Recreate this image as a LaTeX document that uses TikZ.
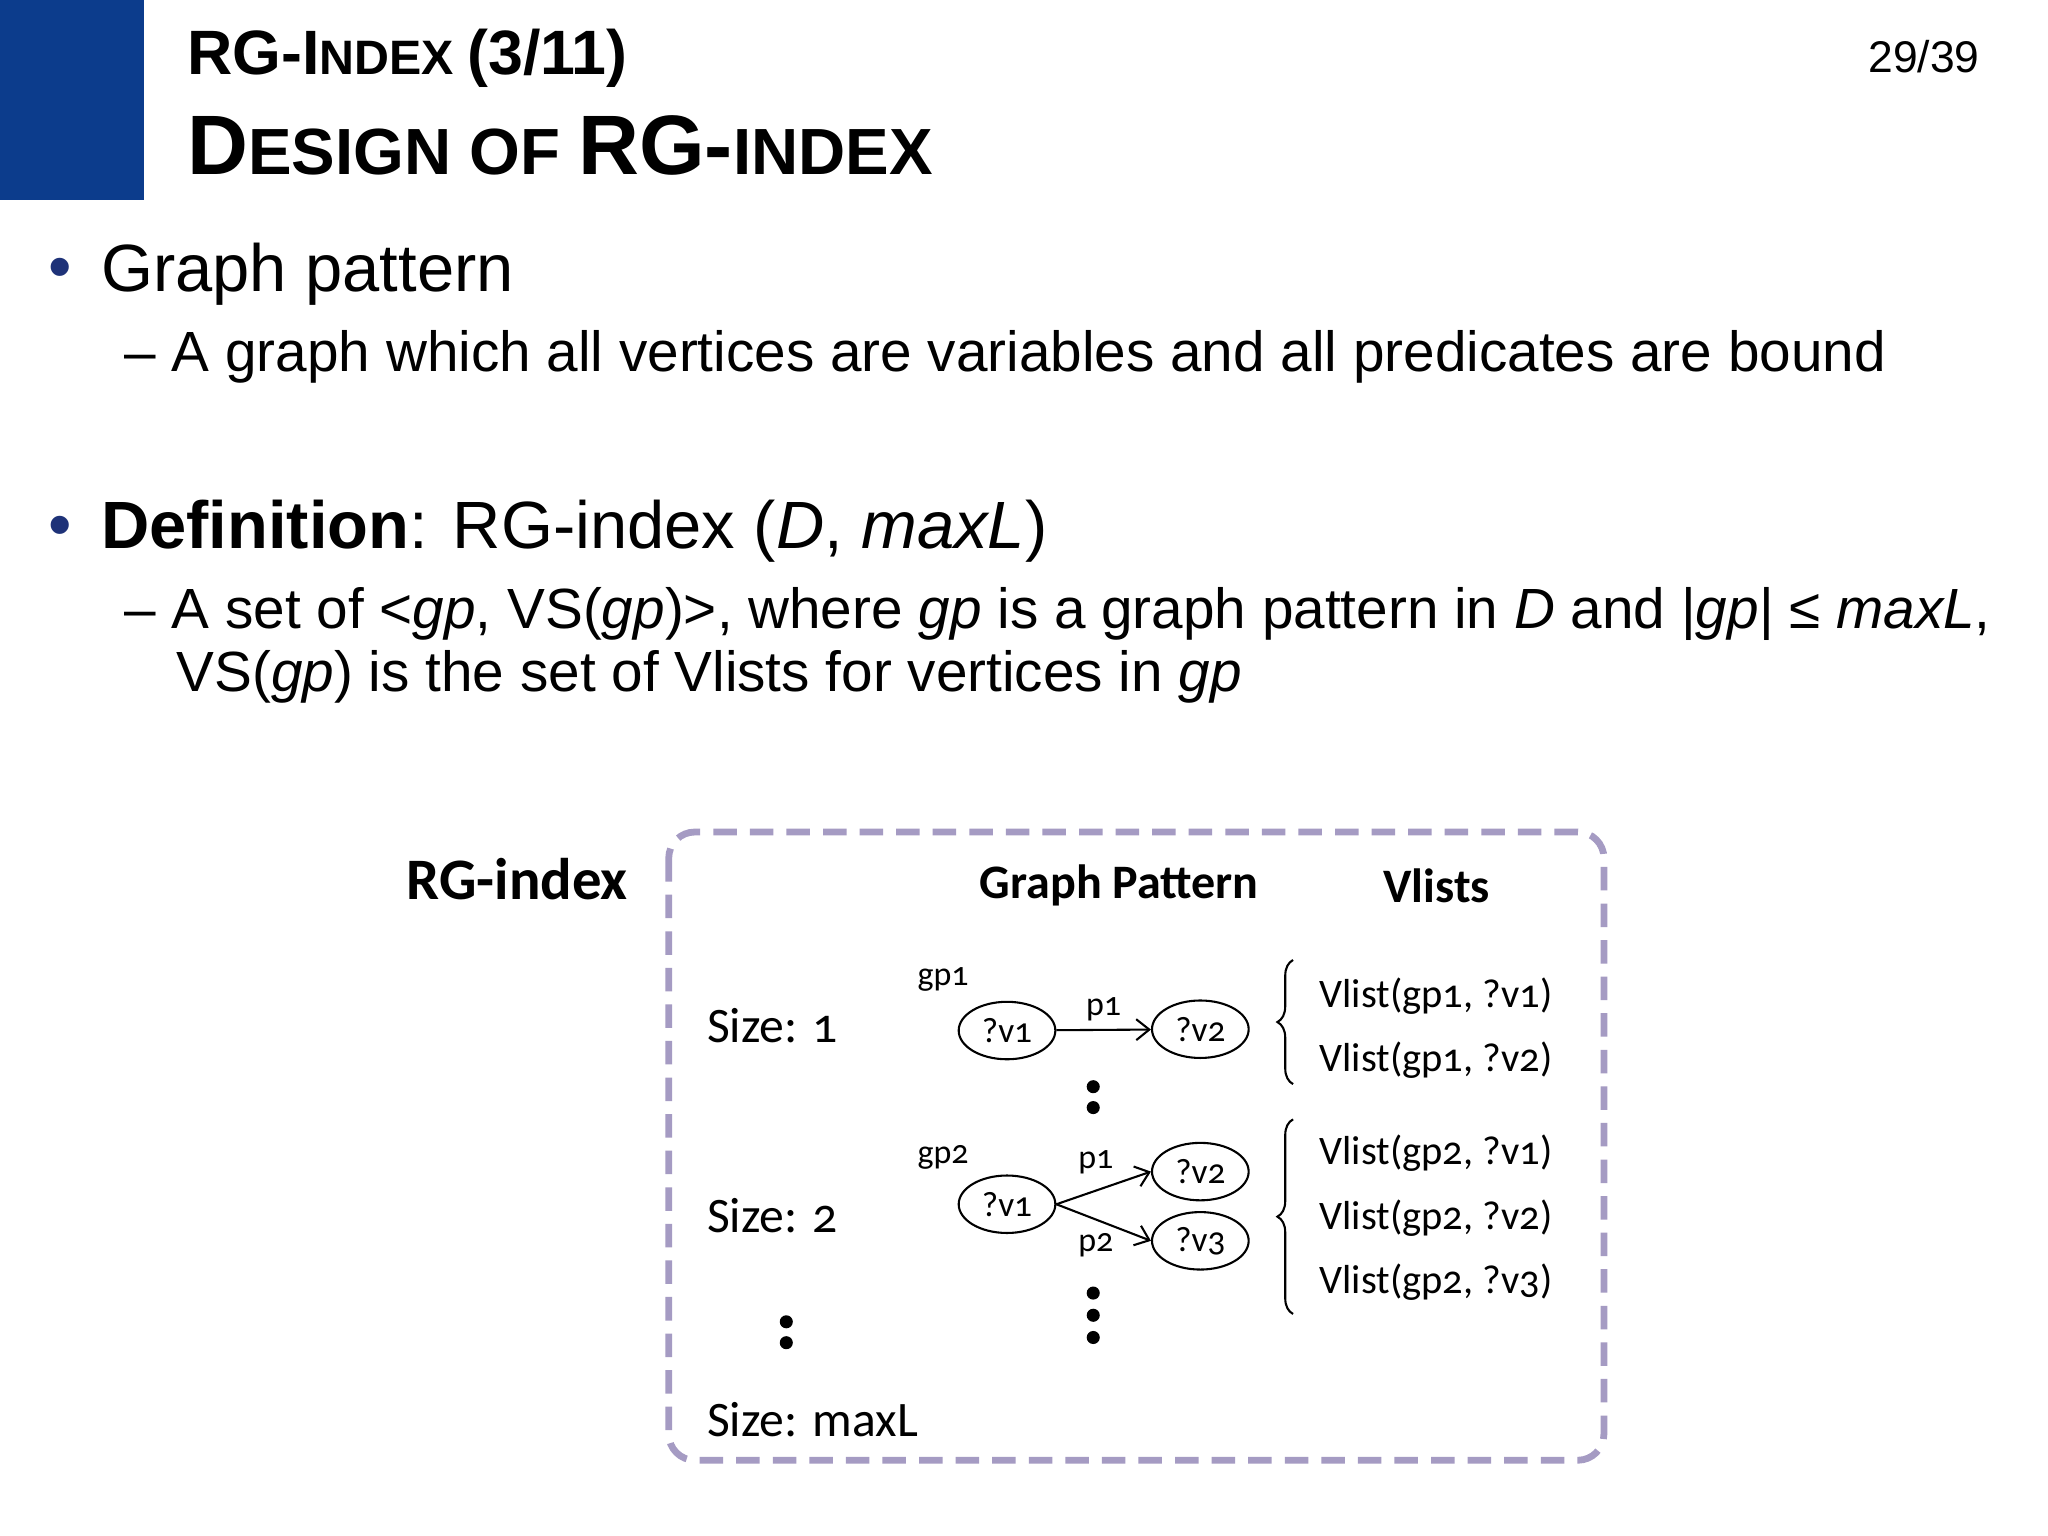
\documentclass[tikz,border=0pt]{standalone}
\usepackage{fontspec}
\setmainfont{Liberation Sans}
\newfontfamily\dgfont[Numbers=OldStyle]{Carlito}
\usetikzlibrary{decorations.pathreplacing,arrows.meta,shapes.geometric}
\definecolor{hdrblue}{RGB}{12,60,140}
\definecolor{lav}{RGB}{165,155,195}
\definecolor{bul}{RGB}{30,50,120}
\tikzset{
 x=0.5pt,y=-0.5pt,
 bodyL/.style={anchor=west,inner sep=0,font=\fontsize{25.6}{30}\selectfont},
 bodyS/.style={anchor=west,inner sep=0,font=\fontsize{21.7}{26}\selectfont},
 dg/.style={inner sep=0,font=\dgfont\fontsize{15.5}{19}\selectfont},
 sz/.style={inner sep=0,anchor=west,font=\dgfont\fontsize{19}{22}\selectfont},
 dgs/.style={inner sep=0,font=\dgfont\fontsize{13}{15}\selectfont},
 var/.style={ellipse,draw,line width=0.8pt,minimum width=37pt,minimum height=22pt,inner sep=0,font=\dgfont\fontsize{13.5}{15}\selectfont},
 arr/.style={-{Straight Barb[length=5pt,width=8pt]},line width=0.8pt},
 dot/.style={circle,fill,inner sep=0,minimum size=5pt},
 br/.style={decorate,decoration={brace,amplitude=6pt},line width=0.8pt}
}
\begin{document}
\begin{tikzpicture}
\useasboundingbox (0,0) rectangle (1568,1176);
\fill[white] (0,0) rectangle (1568,1176);
\fill[hdrblue] (0,0) rectangle (110,153);
\node[anchor=west,inner sep=0] (t1) at (143,45) {\bfseries\fontsize{24}{26}\selectfont RG-I\fontsize{18.5}{20}\selectfont NDEX \fontsize{24}{26}\selectfont(3/11)};
\node[anchor=west,inner sep=0] (t2) at (143,111) {\bfseries\fontsize{32.3}{34}\selectfont D\fontsize{25}{26}\selectfont ESIGN OF \fontsize{32.3}{34}\selectfont RG-\fontsize{25}{26}\selectfont INDEX};
\node[anchor=east,inner sep=0,font=\fontsize{17}{20}\selectfont] (pg) at (1516,43) {29/39};
\node[bodyL,text=bul] (b1) at (37,210) {•};
\node[bodyL] (l1) at (77,210) {Graph pattern};
\node[bodyS] (l2) at (95,273) {– A graph which all vertices are variables and all predicates are bound};
\node[bodyL,text=bul] (b2) at (37,407) {•};
\node[bodyL] (l3) at (77,407) {\textbf{Definition}: RG-index (\textit{D}, \textit{maxL})};
\node[bodyS] (l4) at (95,470) {– A set of <\textit{gp}, VS(\textit{gp})>, where \textit{gp} is a graph pattern in \textit{D} and |\textit{gp}| ≤ \textit{maxL},};
\node[bodyS] (l5) at (135,518) {VS(\textit{gp}) is the set of Vlists for vertices in \textit{gp}};
% diagram
\draw[lav,line width=2.6pt,dash pattern=on 9pt off 5pt,rounded corners=10pt] (512,637) rectangle (1228,1118);
\node[dg,anchor=east,font=\dgfont\bfseries\fontsize{22.5}{25}\selectfont] (rg) at (481,673) {RG-index};
\node[dg,font=\dgfont\bfseries\fontsize{18.4}{21}\selectfont] (hg) at (857,678) {Graph Pattern};
\node[dg,font=\dgfont\bfseries\fontsize{18.4}{21}\selectfont] (hv) at (1100,678) {Vlists};
\node[sz] (s1) at (541,785) {Size: 1};
\node[sz] (s2) at (541,931) {Size: 2};
\node[sz] (sm) at (541,1087) {Size: maxL};
\node[dot] (sd1) at (602,1012) {};
\node[dot] (sd2) at (602,1028) {};
% gp1
\node[dgs] (g1) at (722,750) {gp1};
\node[var] (a1) at (771,789) {?v1};
\node[var] (a2) at (919,788) {?v2};
\draw[arr] (a1) -- (a2) node[dgs,midway,above=3pt] (p1a) {p1};
\node[dot] (d1) at (837,832) {};
\node[dot] (d2) at (837,848) {};
% gp2
\node[dgs] (g2) at (722,886) {gp2};
\node[var] (c1) at (771,922) {?v1};
\node[var] (c2) at (919,897) {?v2};
\node[var] (c3) at (919,950) {?v3};
\draw[arr] (c1.east) -- (c2.west);
\draw[arr] (c1.east) -- (c3.west);
\node[dgs] (p1b) at (839,890) {p1};
\node[dgs] (p2b) at (839,953) {p2};
\node[dot] (d3) at (837,990) {};
\node[dot] (d4) at (837,1007) {};
\node[dot] (d5) at (837,1024) {};
% vlists
\coordinate (bA1) at (990,830); \coordinate (bA2) at (990,735);
\draw[br] (bA1) -- (bA2);
\node[dg,anchor=west] (v11) at (1010,763) {Vlist(gp1, ?v1)};
\node[dg,anchor=west] (v12) at (1010,812) {Vlist(gp1, ?v2)};
\coordinate (bB1) at (990,1006); \coordinate (bB2) at (990,857);
\draw[br] (bB1) -- (bB2);
\node[dg,anchor=west] (v21) at (1010,883) {Vlist(gp2, ?v1)};
\node[dg,anchor=west] (v22) at (1010,933) {Vlist(gp2, ?v2)};
\node[dg,anchor=west] (v23) at (1010,982) {Vlist(gp2, ?v3)};
\end{tikzpicture}
\end{document}
